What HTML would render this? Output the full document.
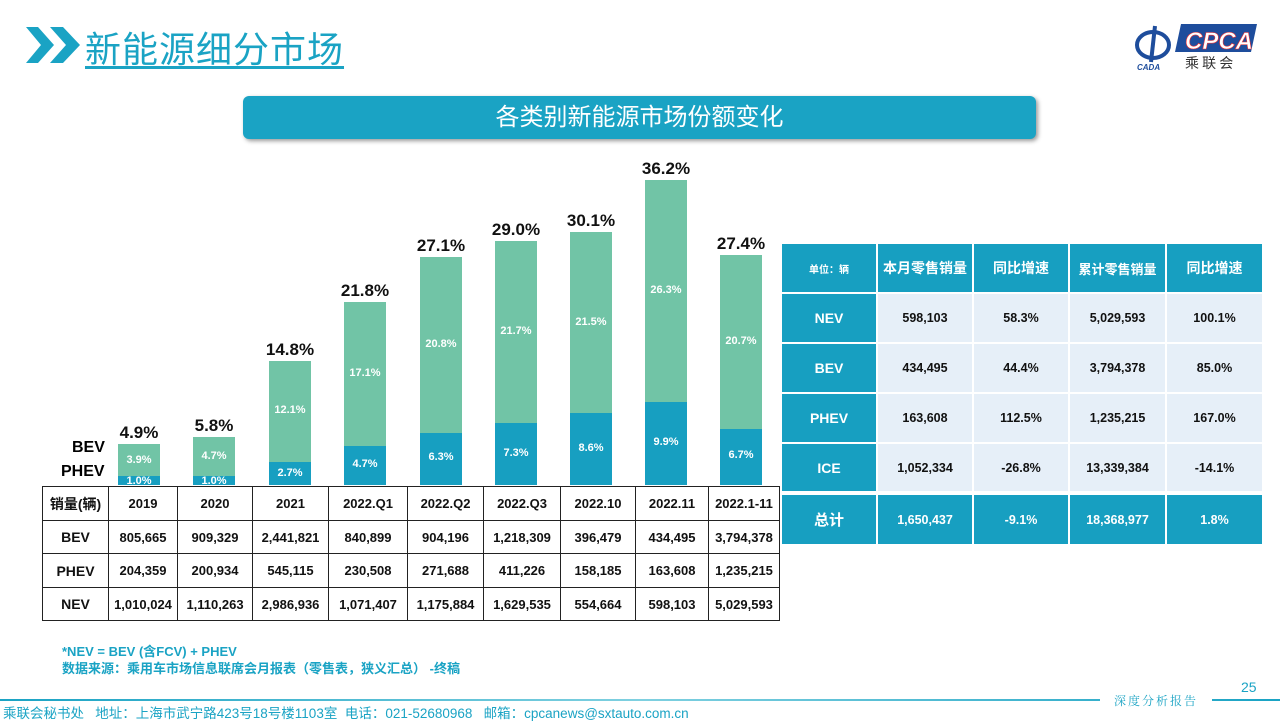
<!DOCTYPE html>
<html><head><meta charset="utf-8"><style>
*{margin:0;padding:0;box-sizing:border-box}
body{width:1280px;height:720px;background:#fff;position:relative;overflow:hidden;font-family:"Liberation Sans","Noto Sans CJK SC",sans-serif}
.a{position:absolute}
.bar{position:absolute;width:42px}
.g{background:#71c4a6}
.b{background:#179fc1}
.lbl{position:absolute;width:80px;text-align:center;font-size:11px;color:#fff;font-weight:bold}
.tot{position:absolute;width:90px;text-align:center;font-size:17px;font-weight:bold;color:#111}
table{border-collapse:collapse;position:absolute;table-layout:fixed}
#lt td{border:1.5px solid #222;text-align:center;font-size:13px;font-weight:bold;color:#111;padding:0;white-space:nowrap}
#rt td{text-align:center;font-size:12.5px;font-weight:bold;border:2px solid #fff}
#rt .h{background:#179fc1;color:#fff}
#rt .d{background:#e6eff8;color:#111}
</style></head><body>
<svg class="a" style="left:26px;top:27px" width="56" height="36"><polygon points="0,0 12,0 28,18 12,36 0,36 15,18" fill="#1aa3c4"/><polygon points="24,0 37,0 54,18 37,36 24,36 40,18" fill="#1aa3c4"/></svg>
<div class="a" style="left:85px;top:21px;font-size:36px;color:#1aa3c4;text-decoration:underline;text-underline-offset:4px;letter-spacing:1px">新能源细分市场</div>
<svg class="a" style="left:1133px;top:20px" width="130" height="52"><ellipse cx="20" cy="25" rx="16" ry="13" fill="none" stroke="#1e4d9c" stroke-width="4"/><path d="M22 6 L18 42" stroke="#1e4d9c" stroke-width="4"/><text x="4" y="50" font-size="8" font-style="italic" font-weight="bold" fill="#1e4d9c">CADA</text><polygon points="48,4 124,4 118,32 42,32" fill="#1e4d9c"/><text x="52" y="29" font-size="24" font-style="italic" font-weight="bold" fill="#fff" stroke="#e33" stroke-width=".6" font-family="Liberation Sans">CPCA</text><text x="52" y="48" font-size="14" fill="#333" font-family="Noto Sans CJK SC">乘 联 会</text></svg>
<div class="a" style="left:243px;top:96px;width:793px;height:43px;background:#1aa3c4;border-radius:6px;box-shadow:2px 2px 4px #999;color:#fff;font-size:24px;text-align:center;line-height:43px">各类别新能源市场份额变化</div>
<div class="bar g" style="left:118px;top:444px;height:41px"></div><div class="bar b" style="left:118px;top:476px;height:9px"></div>
<div class="bar g" style="left:193px;top:437px;height:48px"></div><div class="bar b" style="left:193px;top:476px;height:9px"></div>
<div class="bar g" style="left:269px;top:361px;height:124px"></div><div class="bar b" style="left:269px;top:462px;height:23px"></div>
<div class="bar g" style="left:344px;top:302px;height:183px"></div><div class="bar b" style="left:344px;top:446px;height:39px"></div>
<div class="bar g" style="left:420px;top:257px;height:228px"></div><div class="bar b" style="left:420px;top:433px;height:52px"></div>
<div class="bar g" style="left:495px;top:241px;height:244px"></div><div class="bar b" style="left:495px;top:423px;height:62px"></div>
<div class="bar g" style="left:570px;top:232px;height:253px"></div><div class="bar b" style="left:570px;top:413px;height:72px"></div>
<div class="bar g" style="left:645px;top:180px;height:305px"></div><div class="bar b" style="left:645px;top:402px;height:83px"></div>
<div class="bar g" style="left:720px;top:255px;height:230px"></div><div class="bar b" style="left:720px;top:429px;height:56px"></div>
<div class="lbl" style="left:99px;top:454px">3.9%</div><div class="lbl" style="left:99px;top:475px">1.0%</div>
<div class="lbl" style="left:174px;top:450px">4.7%</div><div class="lbl" style="left:174px;top:475px">1.0%</div>
<div class="lbl" style="left:250px;top:404px">12.1%</div><div class="lbl" style="left:250px;top:467px">2.7%</div>
<div class="lbl" style="left:325px;top:367px">17.1%</div><div class="lbl" style="left:325px;top:458px">4.7%</div>
<div class="lbl" style="left:401px;top:338px">20.8%</div><div class="lbl" style="left:401px;top:451px">6.3%</div>
<div class="lbl" style="left:476px;top:325px">21.7%</div><div class="lbl" style="left:476px;top:447px">7.3%</div>
<div class="lbl" style="left:551px;top:316px">21.5%</div><div class="lbl" style="left:551px;top:442px">8.6%</div>
<div class="lbl" style="left:626px;top:284px">26.3%</div><div class="lbl" style="left:626px;top:436px">9.9%</div>
<div class="lbl" style="left:701px;top:335px">20.7%</div><div class="lbl" style="left:701px;top:449px">6.7%</div>
<div class="tot" style="left:94px;top:423px">4.9%</div>
<div class="tot" style="left:169px;top:416px">5.8%</div>
<div class="tot" style="left:245px;top:340px">14.8%</div>
<div class="tot" style="left:320px;top:281px">21.8%</div>
<div class="tot" style="left:396px;top:236px">27.1%</div>
<div class="tot" style="left:471px;top:220px">29.0%</div>
<div class="tot" style="left:546px;top:211px">30.1%</div>
<div class="tot" style="left:621px;top:159px">36.2%</div>
<div class="tot" style="left:696px;top:234px">27.4%</div>
<div class="a" style="left:72px;top:439px;font-size:16px;font-weight:bold">BEV</div>
<div class="a" style="left:61px;top:463px;font-size:16px;font-weight:bold">PHEV</div>
<table id="lt" style="left:42px;top:486px;width:736px;height:134px">
<colgroup><col style="width:66px"><col style="width:69px"><col style="width:75px"><col style="width:76px"><col style="width:79px"><col style="width:76px"><col style="width:77px"><col style="width:75px"><col style="width:73px"><col style="width:71px"></colgroup>
<tr style="height:34px"><td style="font-size:14px">销量(辆)</td><td>2019</td><td>2020</td><td>2021</td><td>2022.Q1</td><td>2022.Q2</td><td>2022.Q3</td><td>2022.10</td><td>2022.11</td><td>2022.1-11</td></tr>
<tr style="height:33px"><td style="font-size:14px">BEV</td><td>805,665</td><td>909,329</td><td>2,441,821</td><td>840,899</td><td>904,196</td><td>1,218,309</td><td>396,479</td><td>434,495</td><td>3,794,378</td></tr>
<tr style="height:34px"><td style="font-size:14px">PHEV</td><td>204,359</td><td>200,934</td><td>545,115</td><td>230,508</td><td>271,688</td><td>411,226</td><td>158,185</td><td>163,608</td><td>1,235,215</td></tr>
<tr style="height:33px"><td style="font-size:14px">NEV</td><td>1,010,024</td><td>1,110,263</td><td>2,986,936</td><td>1,071,407</td><td>1,175,884</td><td>1,629,535</td><td>554,664</td><td>598,103</td><td>5,029,593</td></tr>
</table>
<table id="rt" style="left:780px;top:242px;width:484px;height:304px">
<colgroup><col style="width:96px"><col style="width:96px"><col style="width:96px"><col style="width:97px"><col style="width:97px"></colgroup>
<tr style="height:50px"><td class="h" style="font-size:10px">单位：辆</td><td class="h" style="font-size:14px">本月零售销量</td><td class="h" style="font-size:14px">同比增速</td><td class="h" style="font-size:13px">累计零售销量</td><td class="h" style="font-size:14px">同比增速</td></tr>
<tr style="height:50px"><td class="h" style="font-size:14px">NEV</td><td class="d">598,103</td><td class="d">58.3%</td><td class="d">5,029,593</td><td class="d">100.1%</td></tr>
<tr style="height:50px"><td class="h" style="font-size:14px">BEV</td><td class="d">434,495</td><td class="d">44.4%</td><td class="d">3,794,378</td><td class="d">85.0%</td></tr>
<tr style="height:50px"><td class="h" style="font-size:14px">PHEV</td><td class="d">163,608</td><td class="d">112.5%</td><td class="d">1,235,215</td><td class="d">167.0%</td></tr>
<tr style="height:50px"><td class="h" style="font-size:14px">ICE</td><td class="d">1,052,334</td><td class="d">-26.8%</td><td class="d">13,339,384</td><td class="d">-14.1%</td></tr>
<tr style="height:52px"><td class="h" style="font-size:15px;border-top:4px solid #fff">总计</td><td class="h" style="border-top:4px solid #fff">1,650,437</td><td class="h" style="border-top:4px solid #fff">-9.1%</td><td class="h" style="border-top:4px solid #fff">18,368,977</td><td class="h" style="border-top:4px solid #fff">1.8%</td></tr>
</table>
<div class="a" style="left:62px;top:643px;font-size:13px;font-weight:bold;color:#1aa3c4;line-height:17px">*NEV = BEV (含FCV) + PHEV<br>数据来源：乘用车市场信息联席会月报表（零售表，狭义汇总） -终稿</div>
<div class="a" style="left:0;top:699px;width:1280px;height:2px;background:linear-gradient(90deg,#1aa3c4,#7fd0e0,#1aa3c4)"></div>
<div class="a" style="left:1100px;top:692px;width:112px;height:16px;background:#fff;text-align:center;font-size:12px;color:#1aa3c4;letter-spacing:2px;font-family:'Noto Serif CJK SC',serif">深度分析报告</div>
<div class="a" style="left:1241px;top:679px;font-size:14px;color:#1aa3c4">25</div>
<div class="a" style="left:3px;top:702px;font-size:13.5px;color:#1aa3c4;white-space:nowrap">乘联会秘书处&nbsp;&nbsp;&nbsp;地址：上海市武宁路423号18号楼1103室&nbsp;&nbsp;电话：021-52680968&nbsp;&nbsp;&nbsp;邮箱：cpcanews@sxtauto.com.cn</div>
</body></html>
